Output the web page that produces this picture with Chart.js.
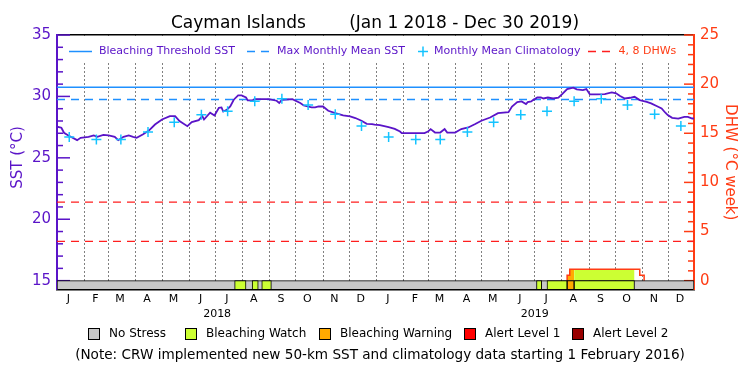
<!DOCTYPE html>
<html lang="en">
<head>
<meta charset="UTF-8" />
<title>Cayman Islands SST and DHW</title>
<script src="https://cdn.jsdelivr.net/npm/chart.js"></script>
<style>
  html, body { margin: 0; padding: 0; background: #fff; }
  #chart { display: block; }
</style>
</head>
<body>
<canvas id="chart" width="750" height="375"></canvas>
<script>
  // x values are days counted from Jan 1 2018 (day 0) to Dec 30 2019 (day 728)
  const dayMin = 0, dayMax = 728;

  // daily SST
  const sstDays = [
    0, 5, 8, 13, 23, 27, 36, 42, 46, 53,
    59, 66, 70, 76, 82, 87, 91, 98, 105, 112,
    120, 129, 135, 140, 149, 154, 162, 166, 168, 175,
    180, 185, 188, 190, 194, 198, 202, 207, 211, 216,
    218, 223, 226, 242, 251, 254, 257, 269, 278, 282,
    291, 295, 299, 304, 310, 318, 327, 335, 341, 348,
    354, 360, 363, 369, 379, 386, 392, 394, 403, 420,
    424, 427, 432, 438, 443, 446, 455, 462, 470, 478,
    485, 495, 504, 516, 520, 526, 531, 536, 538, 542,
    544, 546, 549, 553, 556, 561, 567, 573, 577, 583,
    590, 594, 601, 605, 609, 617, 626, 634, 639, 643,
    649, 655, 660, 666, 674, 679, 687, 691, 695, 698,
    703, 710, 717, 721, 726, 728
  ];
  const sstValues = [
    27.53, 27.45, 27.04, 26.82, 26.44, 26.63, 26.71, 26.82, 26.71, 26.87,
    26.82, 26.71, 26.44, 26.71, 26.82, 26.71, 26.63, 26.90, 27.22, 27.71,
    28.12, 28.40, 28.40, 27.99, 27.58, 27.91, 28.07, 28.40, 28.12, 28.67,
    28.45, 29.07, 29.10, 28.77, 28.91, 29.18, 29.73, 30.08, 30.08, 29.91,
    29.67, 29.67, 29.78, 29.78, 29.65, 29.46, 29.73, 29.78, 29.46, 29.26,
    29.10, 29.10, 29.18, 29.18, 28.83, 28.64, 28.45, 28.37, 28.24, 28.02,
    27.77, 27.75, 27.70, 27.66, 27.50, 27.36, 27.14, 27.01, 27.01, 27.01,
    27.14, 27.34, 27.06, 27.06, 27.34, 27.06, 27.06, 27.34, 27.47, 27.75,
    28.02, 28.28, 28.64, 28.72, 29.18, 29.54, 29.59, 29.38, 29.54, 29.59,
    29.70, 29.78, 29.91, 29.91, 29.83, 29.91, 29.83, 29.89, 30.16, 30.60,
    30.71, 30.57, 30.52, 30.60, 30.16, 30.16, 30.19, 30.32, 30.25, 30.05,
    29.83, 29.89, 29.97, 29.70, 29.56, 29.43, 29.16, 29.02, 28.69, 28.48,
    28.26, 28.20, 28.34, 28.34, 28.20, 28.20
  ];

  // monthly mean climatology, mid-month
  const climDays = [14, 45, 73, 104, 134, 165, 195, 226, 257, 287, 318, 348,
                    379, 410, 438, 469, 499, 530, 560, 591, 622, 652, 683, 713];
  const climValues = [26.7, 26.5, 26.5, 27.1, 27.9, 28.5, 28.8, 29.6, 29.8, 29.3, 28.55, 27.6,
                      26.7, 26.5, 26.5, 27.1, 27.9, 28.5, 28.8, 29.6, 29.8, 29.3, 28.55, 27.6];

  const mmmSST = 29.75;
  const thresholdSST = 30.75;
  const dhwLevels = [4, 8];

  // degree heating weeks (step values, each holds from its day on)
  const dhwDays = [583, 583, 586, 666, 671];
  const dhwValues = [0, 0.55, 1.15, 0.55, 0];

  // stress level bar: 0 no stress, 1 watch, 2 warning, 3 alert 1, 4 alert 2
  const statusStart = [0, 203, 223, 234, 548, 560, 583, 591];
  const statusEnd = [728, 216, 230, 245, 554, 583, 591, 660];
  const statusLevel = [0, 1, 1, 1, 1, 1, 2, 1];
  const statusNames = ['No Stress', 'Bleaching Watch', 'Bleaching Warning', 'Alert Level 1', 'Alert Level 2'];
  const statusColors = ['#c8c8c8', '#ccff33', '#ffaa00', '#ff0000', '#990000'];

  // axes
  const monthStartDays = [31, 59, 90, 120, 151, 181, 212, 243, 273, 304, 334,
                          365, 396, 424, 455, 485, 516, 546, 577, 608, 638, 669, 699];
  const monthLabelDays = [13, 44, 72, 103, 133, 164, 194, 225, 256, 286, 317, 347,
                          378, 409, 437, 468, 498, 529, 559, 590, 621, 651, 682, 712];
  const monthLetters = ['J', 'F', 'M', 'A', 'M', 'J', 'J', 'A', 'S', 'O', 'N', 'D',
                        'J', 'F', 'M', 'A', 'M', 'J', 'J', 'A', 'S', 'O', 'N', 'D'];
  const yearLabelDays = [183, 546];
  const yearLabels = ['2018', '2019'];
  const sstTicks = [15, 20, 25, 30, 35];
  const dhwTicks = [0, 5, 10, 15, 20, 25];

  const purple = '#5a14c8';
  const orangeRed = '#ff3c14';
  const blue = '#1e90ff';
  const cyan = '#14c3ff';
  const red = '#ff1e1e';

  Chart.defaults.font.family = '"DejaVu Sans", sans-serif';

  const xTickDays = monthLabelDays.concat(yearLabelDays);
  const xTickText = monthLetters.concat(yearLabels.map(y => ['', y]));

  function dhwAt(day) {
    let v = 0;
    dhwDays.forEach((d, i) => { if (d <= day) v = dhwValues[i]; });
    return v;
  }
  function dhwSpan(a, b) {
    const pts = [{x: a, y: dhwAt(a)}];
    dhwDays.forEach((d, i) => { if (d > a && d < b) pts.push({x: d, y: dhwValues[i]}); });
    pts.push({x: b, y: dhwAt(b)});
    return pts;
  }

  function refLine(value, axis, color, dash, width) {
    return {
      type: 'line', yAxisID: axis, order: 10,
      data: [{x: dayMin, y: value}, {x: dayMax, y: value}],
      borderColor: color, borderDash: dash, borderWidth: width, pointRadius: 0
    };
  }

  const datasets = [
    refLine(thresholdSST, 'y', blue, [], 1.5),
    refLine(mmmSST, 'y', blue, [8, 6], 1.5),
    ...dhwLevels.map(v => refLine(v, 'y1', red, [8, 6], 1.3)),
    // colour under the DHW curve follows the stress level
    ...statusStart.map((s, i) => ({ s, e: statusEnd[i], lvl: statusLevel[i] }))
      .filter(seg => seg.lvl > 0)
      .map(seg => ({
        type: 'line', yAxisID: 'y1', order: 8,
        data: dhwSpan(seg.s, seg.e), stepped: true,
        fill: {value: 0}, backgroundColor: statusColors[seg.lvl],
        borderWidth: 0, pointRadius: 0
      })),
    {
      type: 'line', yAxisID: 'y1', order: 7,
      data: dhwDays.map((d, i) => ({x: d, y: dhwValues[i]})),
      stepped: true, borderColor: orangeRed, borderWidth: 1.5, pointRadius: 0
    },
    {
      type: 'bar', indexAxis: 'y', xAxisID: 'x', yAxisID: 'y1', order: 5,
      data: statusStart.map((s, i) => ({x: [s, statusEnd[i]], y: -0.45})),
      backgroundColor: statusLevel.map(l => statusColors[l]),
      borderColor: '#000', borderWidth: 1, borderSkipped: false,
      barThickness: 9, grouped: false
    },
    {
      type: 'line', yAxisID: 'y', order: 2,
      data: sstDays.map((d, i) => ({x: d, y: sstValues[i]})),
      borderColor: purple, borderWidth: 1.8, pointRadius: 0
    },
    {
      type: 'line', yAxisID: 'y', order: 1, showLine: false,
      data: climDays.map((d, i) => ({x: d, y: climValues[i]})),
      pointStyle: 'cross', pointRadius: 5, pointBorderColor: cyan, pointBorderWidth: 1.5
    }
  ];

  const decorations = {
    id: 'decorations',
    beforeDatasetsDraw(chart) {
      const {ctx, chartArea: a, scales: {y, y1}} = chart;
      ctx.save();
      // legend band at the top of the plot
      ctx.fillStyle = '#fff';
      ctx.fillRect(a.left + 1, a.top + 1, a.right - a.left - 2, 27);
      // tick marks pointing inwards
      ctx.lineWidth = 1.5;
      ctx.strokeStyle = purple;
      for (let v = 15; v <= 35; v++) {
        const py = y.getPixelForValue(v);
        ctx.beginPath();
        ctx.moveTo(a.left, py);
        ctx.lineTo(a.left + (v % 5 === 0 ? 13 : 6), py);
        ctx.stroke();
      }
      ctx.strokeStyle = orangeRed;
      for (let v = 0; v <= 25; v++) {
        const py = y1.getPixelForValue(v);
        ctx.beginPath();
        ctx.moveTo(a.right, py);
        ctx.lineTo(a.right - (v % 5 === 0 ? 10 : 6), py);
        ctx.stroke();
      }
      ctx.restore();
    },
    afterDatasetsDraw(chart) {
      const {ctx, chartArea: a} = chart;
      ctx.save();
      const ly = a.top + 16.5;
      ctx.font = '11px "DejaVu Sans"';
      ctx.textBaseline = 'middle';
      ctx.lineWidth = 1.5;

      ctx.strokeStyle = blue;
      ctx.beginPath(); ctx.moveTo(a.left + 12, ly); ctx.lineTo(a.left + 35, ly); ctx.stroke();
      ctx.fillStyle = purple;
      ctx.fillText('Bleaching Threshold SST', a.left + 42, ly);

      ctx.setLineDash([8, 6]);
      ctx.beginPath(); ctx.moveTo(a.left + 190, ly); ctx.lineTo(a.left + 213, ly); ctx.stroke();
      ctx.setLineDash([]);
      ctx.fillText('Max Monthly Mean SST', a.left + 220, ly);

      ctx.strokeStyle = cyan;
      const cx = a.left + 366;
      ctx.beginPath();
      ctx.moveTo(cx - 5, ly); ctx.lineTo(cx + 5, ly);
      ctx.moveTo(cx, ly - 5); ctx.lineTo(cx, ly + 5);
      ctx.stroke();
      ctx.fillText('Monthly Mean Climatology', a.left + 377, ly);

      ctx.strokeStyle = red;
      ctx.setLineDash([8, 6]);
      ctx.beginPath(); ctx.moveTo(a.left + 531, ly); ctx.lineTo(a.left + 555, ly); ctx.stroke();
      ctx.setLineDash([]);
      ctx.fillStyle = orangeRed;
      ctx.fillText('4, 8 DHWs', a.left + 561.5, ly);

      // stress level legend and note under the axis
      const boxX = [88, 185, 319, 464, 572];
      const by = 334;
      ctx.font = '12px "DejaVu Sans"';
      ctx.lineWidth = 1;
      statusNames.forEach((name, i) => {
        ctx.fillStyle = statusColors[i];
        ctx.fillRect(boxX[i], by - 5.5, 11, 11);
        ctx.strokeStyle = '#000';
        ctx.strokeRect(boxX[i] + 0.5, by - 5.5, 11, 11);
        ctx.fillStyle = '#000';
        ctx.fillText(name, boxX[i] + 21, by);
      });
      ctx.font = '13.6px "DejaVu Sans"';
      ctx.textAlign = 'center';
      ctx.fillText('(Note: CRW implemented new 50-km SST and climatology data starting 1 February 2016)', 380, 355);
      ctx.restore();
    }
  };

  new Chart(document.getElementById('chart'), {
    type: 'line',
    data: { datasets },
    options: {
      responsive: false,
      devicePixelRatio: 1,
      animation: false,
      events: [],
      layout: { padding: 0 },
      plugins: {
        legend: { display: false },
        tooltip: { enabled: false },
        title: {
          display: true,
          text: 'Cayman Islands        (Jan 1 2018 - Dec 30 2019)',
          color: '#000',
          font: { size: 17, weight: 'normal' },
          padding: { top: 13, bottom: 1.6 }
        }
      },
      scales: {
        x: {
          type: 'linear', axis: 'x', position: 'bottom',
          min: dayMin, max: dayMax, offset: false,
          afterBuildTicks: s => { s.ticks = xTickDays.map(v => ({value: v})); },
          afterFit: s => { s.height = 85.5; },
          grid: { display: false, drawTicks: false },
          border: { display: true, color: '#000', width: 1.5 },
          ticks: {
            autoSkip: false, maxRotation: 0, minRotation: 0, padding: 2,
            color: '#000', font: { size: 11, lineHeight: 1.4 },
            callback: (v, i) => xTickText[i]
          }
        },
        x2: {
          type: 'linear', axis: 'x', position: 'top',
          min: dayMin, max: dayMax, offset: false,
          afterBuildTicks: s => { s.ticks = monthStartDays.map(v => ({value: v})); },
          afterFit: s => { s.height = 0; },
          grid: { color: '#000', lineWidth: 1, drawTicks: false },
          border: { display: true, color: '#000', width: 1.5, dash: [1, 3] },
          ticks: { display: false }
        },
        y: {
          type: 'linear', axis: 'y', position: 'left',
          min: 14.28, max: 35,
          afterBuildTicks: s => { s.ticks = sstTicks.map(v => ({value: v})); },
          afterFit: s => { s.width = 57; },
          grid: { display: false, drawTicks: false },
          border: { display: true, color: purple, width: 2 },
          ticks: { color: purple, padding: 6, font: { size: 15 } },
          title: {
            display: true, text: '  SST (°C)', color: purple,
            font: { size: 15 }, padding: { top: 9, bottom: 0 }
          }
        },
        y1: {
          type: 'linear', axis: 'y', position: 'right',
          min: -0.9, max: 25, offset: false,
          afterBuildTicks: s => { s.ticks = dhwTicks.map(v => ({value: v})); },
          afterFit: s => { s.width = 56; },
          grid: { display: false, drawTicks: false, offset: false },
          border: { display: true, color: orangeRed, width: 2 },
          ticks: { color: orangeRed, padding: 6, font: { size: 15 } },
          title: {
            display: true, text: 'DHW (°C week)', color: orangeRed,
            font: { size: 15 }, padding: { top: 11.6, bottom: 0 }
          }
        }
      }
    },
    plugins: [decorations]
  });
</script>
</body>
</html>
